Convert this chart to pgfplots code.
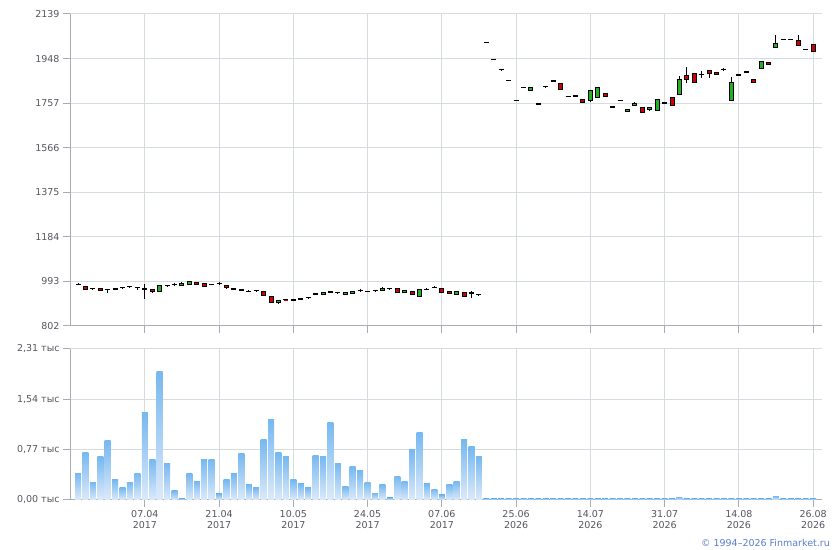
\documentclass[border=0pt]{standalone}
\usepackage{pgfplots}
\pgfplotsset{compat=1.18}
\usepackage{pgfplotstable}
\usepackage{fontspec}
\setmainfont{DejaVu Sans}
\definecolor{gridc}{RGB}{214,219,223}
\definecolor{axisc}{RGB}{168,173,180}
\definecolor{labc}{RGB}{85,85,95}
\definecolor{upc}{RGB}{34,177,34}
\definecolor{downc}{RGB}{204,0,0}
\definecolor{voltop}{RGB}{118,184,240}
\definecolor{volbot}{RGB}{220,234,250}
\definecolor{copyc}{RGB}{90,125,205}

\pgfplotstableread{
i o h l c
0 980 988 977 980
1 971 973 955 957
2 962 963 955 962
3 962 964 953 954
4 959 960 945 959
5 961 963 958 960
6 967 968 960 967
7 971 972 963 971
8 967 968 958 967
9 961 981 919 960
10 959 961 942 948
11 948 978 946 974
12 977 978 970 977
13 981 986 975 981
14 975 992 974 986
15 980 994 979 993
16 989 990 979 980
17 984 985 970 971
18 981 983 977 980
19 984 990 978 984
20 977 978 960 967
21 961 962 958 960
22 957 958 954 956
23 951 955 947 951
24 954 958 950 954
25 951 952 930 933
26 929 930 900 901
27 901 913 897 911
28 915 916 913 914
29 914 916 910 914
30 918 922 914 918
31 924 928 920 924
32 940 942 936 939
33 938 949 936 947
34 948 952 944 948
35 946 947 939 946
36 938 948 936 947
37 942 952 941 951
38 954 959 949 954
39 951 952 948 950
40 953 956 950 953
41 955 968 954 964
42 964 965 957 964
43 962 963 944 945
44 945 956 944 955
45 951 952 935 937
46 930 960 928 959
47 959 963 955 959
48 967 973 966 967
49 962 963 944 945
50 951 952 938 940
51 937 949 935 948
52 945 946 925 927
53 944 951 923 944
54 936 937 929 936
55 2018 2019 2017 2018
56 1944 1945 1943 1944
57 1900 1901 1899 1900
58 1856 1858 1852 1854
59 1769 1770 1768 1769
60 1825 1826 1824 1825
61 1812 1826 1811 1825
62 1753 1754 1752 1753
63 1829 1830 1826 1827
64 1852 1853 1851 1852
65 1840 1841 1816 1817
66 1786 1787 1785 1786
67 1789 1790 1786 1787
68 1773 1774 1759 1760
69 1767 1813 1761 1812
70 1782 1826 1781 1825
71 1799 1800 1785 1786
72 1741 1745 1737 1741
73 1769 1770 1768 1769
74 1721 1731 1720 1731
75 1747 1764 1746 1757
76 1738 1739 1715 1716
77 1728 1738 1722 1738
78 1725 1773 1724 1773
79 1757 1758 1756 1757
80 1783 1784 1744 1745
81 1795 1872 1794 1860
82 1874 1910 1845 1859
83 1882 1883 1846 1847
84 1881 1894 1865 1881
85 1896 1897 1864 1882
86 1888 1889 1877 1878
87 1900 1907 1895 1900
88 1769 1869 1768 1847
89 1878 1879 1877 1878
90 1890 1893 1887 1890
91 1860 1861 1846 1847
92 1904 1936 1903 1935
93 1930 1931 1921 1922
94 1996 2047 1995 2014
95 2031 2032 2030 2031
96 2031 2032 2030 2031
97 2027 2047 2004 2005
98 1987 1988 1986 1987
99 2009 2010 1978 1979
}\candles

\pgfplotstableread{
i v
0 0.413
1 0.734
2 0.275
3 0.658
4 0.903
5 0.306
6 0.184
7 0.275
8 0.413
9 1.331
10 0.627
11 1.973
12 0.566
13 0.138
14 0.025
15 0.398
16 0.290
17 0.627
18 0.627
19 0.092
20 0.306
21 0.398
22 0.704
23 0.230
24 0.184
25 0.918
26 1.239
27 0.719
28 0.658
29 0.306
30 0.245
31 0.184
32 0.688
33 0.673
34 1.193
35 0.566
36 0.199
37 0.505
38 0.444
39 0.275
40 0.107
41 0.230
42 0.035
43 0.367
44 0.290
45 0.765
46 1.040
47 0.245
48 0.168
49 0.077
50 0.230
51 0.290
52 0.918
53 0.811
54 0.673
55 0.025
56 0.025
57 0.025
58 0.025
59 0.025
60 0.025
61 0.025
62 0.025
63 0.025
64 0.025
65 0.025
66 0.025
67 0.025
68 0.025
69 0.025
70 0.025
71 0.025
72 0.025
73 0.025
74 0.025
75 0.025
76 0.025
77 0.025
78 0.025
79 0.025
80 0.025
81 0.045
82 0.025
83 0.025
84 0.025
85 0.025
86 0.025
87 0.025
88 0.025
89 0.025
90 0.025
91 0.025
92 0.025
93 0.025
94 0.060
95 0.025
96 0.025
97 0.025
98 0.025
99 0.025
}\vol

\pgfplotsset{
  fm/.style={
    scale only axis, width=752bp,
    xmin=-1.08, xmax=100.2,
    axis x line*=bottom, axis y line*=left,
    axis line style={draw=axisc, line width=1bp},
    grid=major, major grid style={draw=gridc, line width=1bp},
    xtick={9,19,...,99},
    tick style={draw=axisc, line width=1bp},
    tick align=outside, ytick pos=left, xtick pos=bottom,
    major tick length=7bp,
    tick label style={font=\fontsize{9.5bp}{11bp}\selectfont, text=labc},
    clip=true,
  },
}

\pgfdeclareplotmark{volbar}{%
  \shade[draw=none, top color=voltop, bottom color=volbot] (-3bp,-\barh bp) rectangle (3bp,0bp);%
}
\pgfdeclareplotmark{candup}{%
  \filldraw[fill=upc, draw=black, line width=1bp] (-2bp,-\candh bp) rectangle (2bp,0bp);%
}
\pgfdeclareplotmark{canddown}{%
  \filldraw[fill=downc, draw=black, line width=1bp] (-2bp,-\candh bp) rectangle (2bp,0bp);%
}
\pgfdeclareplotmark{canddoji}{%
  \draw[black, line width=1.3bp] (-2.5bp,0bp) -- (2.5bp,0bp);%
}

\begin{document}
\begin{tikzpicture}
\useasboundingbox (0,0) rectangle (840bp,550bp);
\begin{axis}[fm,
  at={(70bp,224bp)}, anchor=south west, height=312bp,
  ymin=802, ymax=2139,
  ytick={802,993,1184,1375,1566,1757,1948,2139},
  yticklabels={802,993,1184,1375,1566,1757,1948,2139},
  xticklabels={},
]
% wicks
\addplot[draw=none, mark=none, error bars/.cd, y dir=both, y explicit, error mark=none,
  error bar style={draw=black, line width=1bp, line cap=butt}]
  table[x=i, y expr={(\thisrow{h}+\thisrow{l})/2}, y error expr={(\thisrow{h}-\thisrow{l})/2}] {\candles};
% up bodies
\addplot[only marks, mark=candup, unbounded coords=discard,
  visualization depends on={abs(\thisrow{c}-\thisrow{o})*0.23336 \as \candh}]
  table[x=i, y expr={\thisrow{c}>\thisrow{o} ? \thisrow{c} : nan}] {\candles};
% down bodies
\addplot[only marks, mark=canddown, unbounded coords=discard,
  visualization depends on={abs(\thisrow{c}-\thisrow{o})*0.23336 \as \candh}]
  table[x=i, y expr={\thisrow{c}<\thisrow{o} ? \thisrow{o} : nan}] {\candles};
% doji
\addplot[only marks, mark=canddoji, unbounded coords=discard]
  table[x=i, y expr={\thisrow{c}==\thisrow{o} ? \thisrow{c} : nan}] {\candles};
\end{axis}

\begin{axis}[fm,
  at={(70bp,50bp)}, anchor=south west, height=151bp,
  ymin=0, ymax=2.31,
  ytick={0,0.77,1.54,2.31},
  yticklabels={{0,00 тыс},{0,77 тыс},{1,54 тыс},{2,31 тыс}},
  xticklabels={{07.04\\2017},{21.04\\2017},{10.05\\2017},{24.05\\2017},{07.06\\2017},{25.06\\2026},{14.07\\2026},{31.07\\2026},{14.08\\2026},{26.08\\2026}},
  xticklabel style={align=center},
]
\addplot[only marks, mark=volbar, visualization depends on={\thisrow{v}*65.368 \as \barh}] table[x=i, y=v] {\vol};
\end{axis}
\node[anchor=east, text=copyc, font=\fontsize{9.5bp}{11bp}\selectfont, inner sep=0pt] at (830bp,7bp) {© 1994–2026 Finmarket.ru};
\end{tikzpicture}
\end{document}
